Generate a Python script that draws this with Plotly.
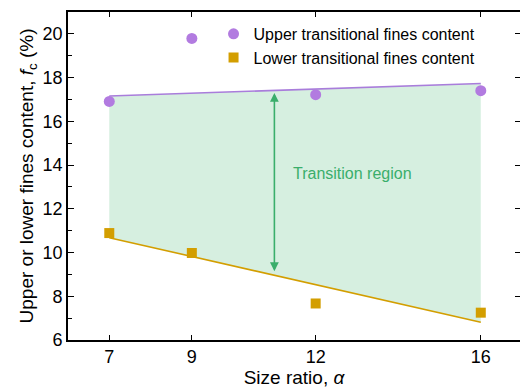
import plotly.graph_objects as go

# ---- data ----
size_ratio = [7, 9, 12, 16]
upper_fc = [16.91, 19.79, 17.22, 17.40]
lower_fc = [10.89, 9.98, 7.67, 7.25]

fit_x = [7, 16]
upper_fit = [17.16, 17.73]
lower_fit = [10.68, 6.81]

arrow_x = 11
arrow_top = 17.30
arrow_bottom = 9.08

x_ticks = [7, 9, 12, 16]
y_ticks = [6, 8, 10, 12, 14, 16, 18, 20]

purple = "#b27be0"
purple_line = "#a97ddb"
gold = "#d39e00"
fill_green = "rgba(200,233,214,0.75)"
green = "#3aae6b"
font_family = "Arial, Liberation Sans, sans-serif"

fig = go.Figure()

# shaded transition region
fig.add_trace(go.Scatter(x=fit_x, y=lower_fit, mode="lines",
                         line=dict(width=0, color=gold), showlegend=False,
                         hoverinfo="skip"))
fig.add_trace(go.Scatter(x=fit_x, y=upper_fit, mode="lines",
                         line=dict(width=0, color=purple_line), fill="tonexty",
                         fillcolor=fill_green, showlegend=False, hoverinfo="skip"))
# fit lines
fig.add_trace(go.Scatter(x=fit_x, y=upper_fit, mode="lines",
                         line=dict(width=1.6, color=purple_line), showlegend=False))
fig.add_trace(go.Scatter(x=fit_x, y=lower_fit, mode="lines",
                         line=dict(width=1.6, color=gold), showlegend=False))
# data points
fig.add_trace(go.Scatter(x=size_ratio, y=upper_fc, mode="markers",
                         name="Upper transitional fines content",
                         marker=dict(symbol="circle", size=11, color=purple)))
fig.add_trace(go.Scatter(x=size_ratio, y=lower_fc, mode="markers",
                         name="Lower transitional fines content",
                         marker=dict(symbol="square", size=10, color=gold)))
# invisible trace on right axis for mirrored ticks
fig.add_trace(go.Scatter(x=[size_ratio[0]], y=[upper_fc[0]], yaxis="y2",
                         mode="markers", marker=dict(opacity=0),
                         showlegend=False, hoverinfo="skip"))

fig.add_annotation(x=arrow_x, y=arrow_top, ax=arrow_x, ay=arrow_bottom,
                   xref="x", yref="y", axref="x", ayref="y", text="",
                   showarrow=True, arrowhead=2, startarrowhead=2,
                   arrowside="end+start", arrowsize=1.1, startarrowsize=1.1,
                   arrowwidth=1.6, arrowcolor=green)
fig.add_annotation(x=12.88, y=13.62, xref="x", yref="y",
                   text="Transition region", showarrow=False,
                   font=dict(size=16, color=green, family=font_family))

axis_common = dict(showline=True, linecolor="black", linewidth=1.6,
                   ticks="inside", tickcolor="black", tickwidth=1.4,
                   showgrid=False, zeroline=False,
                   tickfont=dict(size=18, color="black", family=font_family))

fig.update_layout(
    width=520, height=392,
    margin=dict(l=68, r=0, t=12, b=52),
    paper_bgcolor="white", plot_bgcolor="white",
    font=dict(family=font_family, color="black"),
    xaxis=dict(range=[6, 16.95], tickvals=x_ticks, ticklen=5, mirror="ticks",
               title=dict(text="Size ratio, <i>α</i>", font=dict(size=19), standoff=2),
               **axis_common),
    yaxis=dict(range=[6, 21], tickvals=y_ticks, ticklen=6,
               minor=dict(dtick=1, ticklen=4, ticks="inside", tickcolor="black", tickwidth=1.4),
               title=dict(text="Upper or lower fines content, <i>f</i><sub>c</sub> (%)",
                          font=dict(size=19), standoff=4),
               **axis_common),
    yaxis2=dict(range=[6, 21], tickvals=y_ticks, ticklen=5, overlaying="y",
                side="right", showline=False, ticks="inside", tickcolor="black",
                tickwidth=1.4, showticklabels=False, showgrid=False, zeroline=False),
    legend=dict(x=0.322, y=0.985, xanchor="left", yanchor="top",
                traceorder="normal",
                bgcolor="rgba(0,0,0,0)", font=dict(size=16, family=font_family),
                tracegroupgap=0, itemwidth=30),
)

fig.write_html("out.html")
